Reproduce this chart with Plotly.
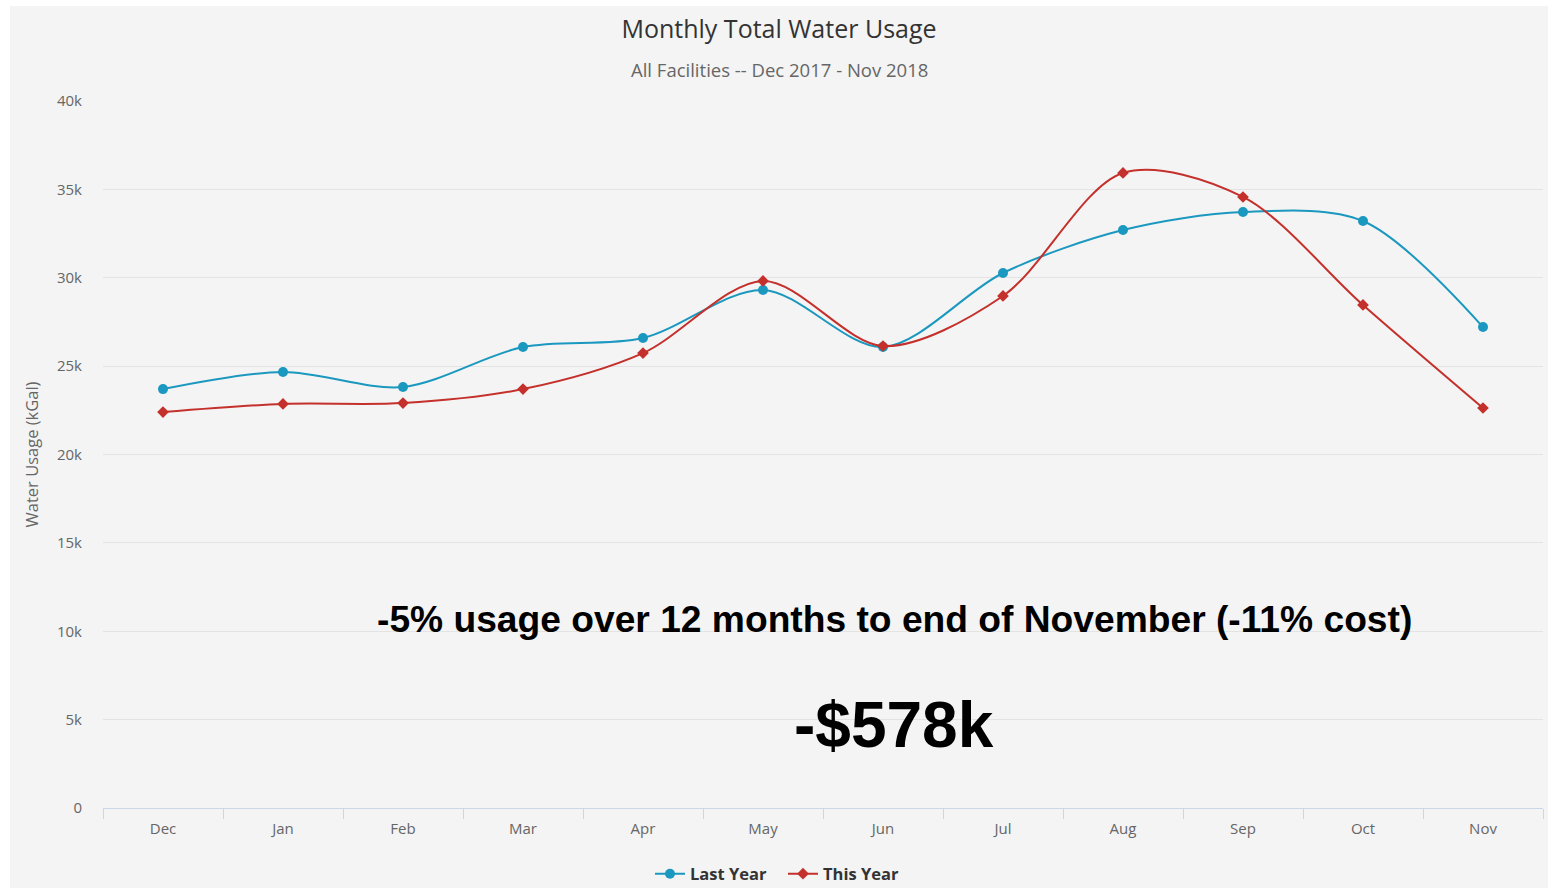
import plotly.graph_objects as go

months = ["Dec", "Jan", "Feb", "Mar", "Apr", "May", "Jun", "Jul", "Aug", "Sep", "Oct", "Nov"]
last_year = [23700, 24670, 23820, 26080, 26590, 29310, 26080, 30270, 32700, 33720, 33210, 27210]
this_year = [22400, 22860, 22910, 23700, 25740, 29820, 26140, 28970, 35930, 34570, 28460, 22630]
y_ticks = [0, 5000, 10000, 15000, 20000, 25000, 30000, 35000, 40000]
y_tick_labels = ["0", "5k", "10k", "15k", "20k", "25k", "30k", "35k", "40k"]

W, H = 1548, 888
L, R, T, B = 103, 5, 101, 80
pw, ph = W - L - R, H - T - B

def px_x(p):
    return (p - L) / pw

def px_y(p):
    return (H - B - p) / ph

fig = go.Figure()
fig.add_trace(go.Scatter(
    x=months, y=last_year, name="Last Year", mode="lines+markers",
    line=dict(color="#1b98bf", width=2, shape="spline", smoothing=0.9),
    marker=dict(symbol="circle", size=10, color="#1b98bf"),
))
fig.add_trace(go.Scatter(
    x=months, y=this_year, name="This Year", mode="lines+markers",
    line=dict(color="#c4302b", width=2, shape="spline", smoothing=0.9),
    marker=dict(symbol="diamond", size=9, color="#c4302b"),
))

fig.update_layout(
    width=W, height=H,
    margin=dict(l=L, r=R, t=T, b=B, autoexpand=False),
    paper_bgcolor="white",
    plot_bgcolor="rgba(0,0,0,0)",
    font=dict(family="Open Sans, sans-serif", color="#666666"),
    title=dict(
        text="Monthly Total Water Usage",
        x=px_x(779), xref="paper", xanchor="center",
        y=1 - 29 / H, yanchor="middle", yref="container",
        font=dict(size=25, color="#333333", family="Open Sans, sans-serif"),
    ),
    showlegend=True,
    legend=dict(
        orientation="h", x=px_x(783), xanchor="center",
        y=px_y(874), yanchor="middle",
        font=dict(size=16.5, color="#333333", family="Open Sans, sans-serif", weight="bold"),
        bgcolor="rgba(0,0,0,0)", itemwidth=30,
        entrywidth=88, entrywidthmode="pixels",
    ),
    xaxis=dict(
        type="category", range=[-0.5, 11.5],
        showgrid=False, showline=True, linecolor="#ccd6eb", linewidth=1,
        ticks="outside", tickson="boundaries", ticklen=10, tickcolor="#ccd6eb",
        tickfont=dict(size=15, color="#666666"),
        ticklabelstandoff=7,
        zeroline=False, automargin=False,
    ),
    yaxis=dict(
        range=[0, 40000], tickvals=y_ticks, ticktext=y_tick_labels,
        showgrid=True, gridcolor="#e3e3e3", gridwidth=1,
        zeroline=False, showline=False, automargin=False,
        tickfont=dict(size=15, color="#666666"),
        ticklabelstandoff=20,
        title=dict(text="Water Usage (kGal)", font=dict(size=16.5, color="#666666"), standoff=14),
    ),
    shapes=[
        dict(type="rect", xref="paper", yref="paper", layer="below",
             x0=px_x(10), x1=px_x(W + 5), y0=px_y(H + 5), y1=px_y(6),
             fillcolor="#f4f4f4", line=dict(width=0)),
    ],
    annotations=[
        dict(text="All Facilities -- Dec 2017 - Nov 2018", xref="paper", yref="paper",
             x=px_x(779), y=px_y(70), xanchor="center", yanchor="middle", showarrow=False,
             font=dict(size=18.5, color="#666666", family="Open Sans, sans-serif")),
        dict(text="<b>-5% usage over 12 months to end of November (-11% cost)</b>",
             xref="paper", yref="paper", x=px_x(894), y=px_y(619),
             xanchor="center", yanchor="middle", showarrow=False,
             font=dict(size=37.2, color="#000000", family="Liberation Sans, Arial, sans-serif")),
        dict(text="<b>-$578k</b>",
             xref="paper", yref="paper", x=px_x(894), y=px_y(725),
             xanchor="center", yanchor="middle", showarrow=False,
             font=dict(size=64, color="#000000", family="Liberation Sans, Arial, sans-serif")),
    ],
)

fig.write_html("out.html", config={"displayModeBar": False},
               post_script="document.body.style.margin='0';")
